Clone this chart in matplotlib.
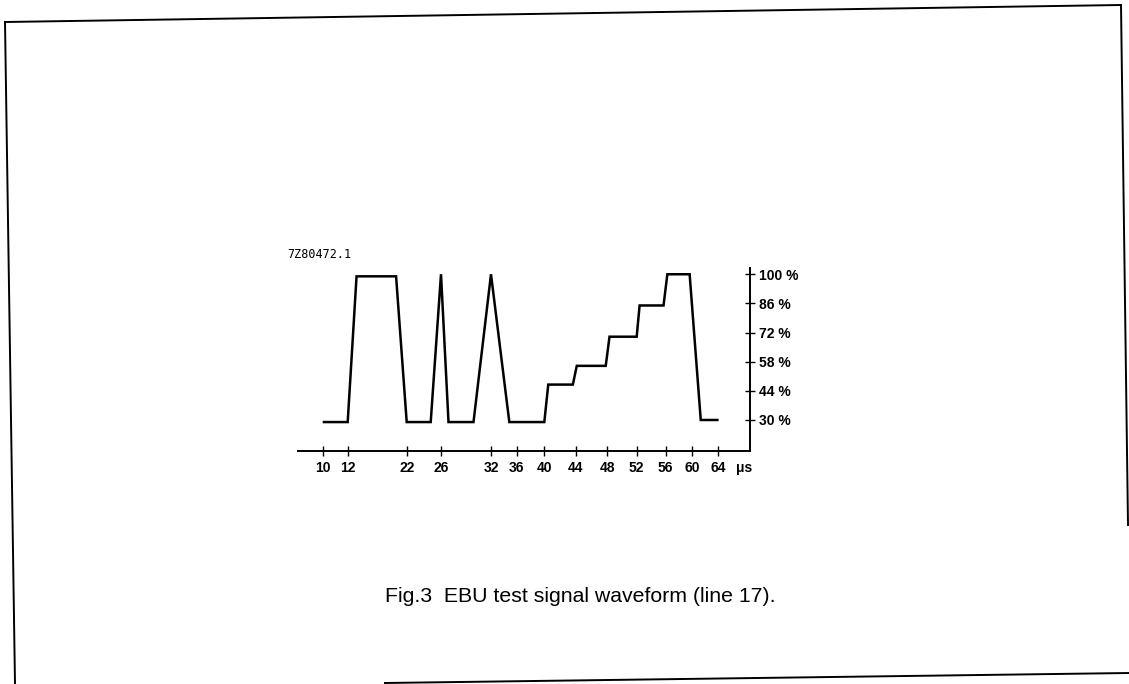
import numpy as np
import matplotlib.pyplot as plt
from matplotlib.lines import Line2D

# time axis of the drawing is schematic: tick values and where they sit
tick_us = [10, 12, 22, 26, 32, 36, 40, 44, 48, 52, 56, 60, 64]
tick_pos = [322.7, 347.7, 406.7, 441, 491, 516.7, 544.3, 576, 607.3, 636.7, 665.7, 692.3, 718.3]

level_ticks = [30, 44, 58, 72, 86, 100]
level_labels = ["30 %", "44 %", "58 %", "72 %", "86 %", "100 %"]

# EBU test signal waveform (us, percent)
t_us = [10.1, 12, 13.5, 20.2, 22, 24.8, 26, 26.9, 29.9, 32, 34.85, 40, 40.5,
        43.6, 44.1, 47.8, 48.3, 52, 52.4, 55.7, 56.25, 59.6, 61.3, 63.85]
level = [29, 29, 99, 99, 29, 29, 100, 29, 29, 100, 29, 29, 47,
         47, 56, 56, 70, 70, 85, 85, 100, 100, 30, 30]

W, H = 1129, 684
anchor_us = [8] + tick_us + [69]
anchor_pos = [298] + tick_pos + [750]


def fwd(x):
    return np.interp(x, anchor_us, anchor_pos)


def inv(p):
    return np.interp(p, anchor_pos, anchor_us)


plt.rcParams['font.family'] = ['Liberation Sans', 'DejaVu Sans']

fig = plt.figure(figsize=(W / 100, H / 100), dpi=100)
x0, x1 = 298, 750
y_top, y_bot = 268, 451
ax = fig.add_axes([x0 / W, 1 - y_bot / H, (x1 - x0) / W, (y_bot - y_top) / H])

ax.plot(t_us, level, color='black', lw=1.8, solid_joinstyle='miter')

ax.set_xscale('function', functions=(fwd, inv))
ax.set_xlim(8, 69)
ax.set_ylim(15.1, 103)

ax.spines['top'].set_visible(False)
ax.spines['left'].set_visible(False)
for s in ('bottom', 'right'):
    ax.spines[s].set_linewidth(1.4)

ax.set_xticks(tick_us)
ax.set_xticklabels([str(v) for v in tick_us], fontsize=10, fontweight='bold')
ax.xaxis.set_minor_locator(plt.NullLocator())
ax.tick_params(axis='x', direction='inout', length=7, width=1, pad=4)

ax.yaxis.tick_right()
ax.set_yticks(level_ticks)
ax.set_yticklabels(level_labels, fontsize=10, fontweight='bold')
ax.tick_params(axis='y', direction='inout', length=7, width=1, pad=3)

ax.text(744 / W, 1 - 468 / H, "\u03bcs", transform=fig.transFigure, fontsize=10,
        fontweight='bold', ha='center', va='center')
ax.text(287 / W, 1 - 255 / H, "7Z80472.1", transform=fig.transFigure,
        fontsize=8.5, family='DejaVu Sans Mono', ha='left', va='center')

fig.text(580 / W, 1 - 597 / H, "Fig.3  EBU test signal waveform (line 17).",
         fontsize=15.3, ha='center', va='center')

# scanned page frame
frame = [((5, 22), (15, 684)), ((5, 22), (1121, 5)), ((1121, 5), (1128, 525)),
         ((385, 683), (1129, 673))]
for (ax_, ay), (bx, by) in frame:
    fig.add_artist(Line2D([ax_ / W, bx / W], [1 - ay / H, 1 - by / H],
                          transform=fig.transFigure, color='black', lw=1.4))

fig.savefig("out.png", dpi=100)
